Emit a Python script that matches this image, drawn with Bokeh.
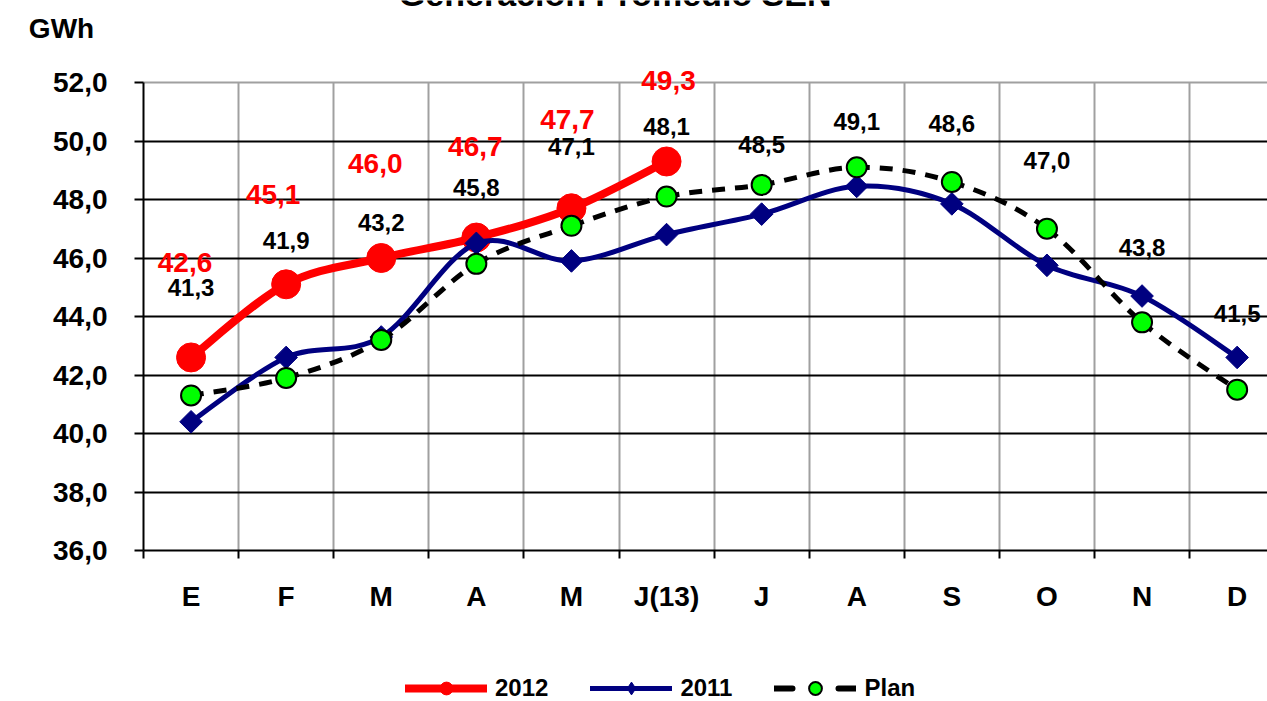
from bokeh.plotting import figure
from bokeh.models import (Range1d, FixedTicker, LabelSet, Label, Legend,
                          LegendItem, ColumnDataSource, Grid)
from bokeh.core.properties import value
from bokeh.embed import file_html
from bokeh.resources import INLINE
import numpy as np

# ---------------- data ----------------
months = ["E", "F", "M", "A", "M", "J(13)", "J", "A", "S", "O", "N", "D"]
gen_2012 = [42.6, 45.1, 46.0, 46.7, 47.7, 49.3]
gen_2011 = [40.4, 42.6, 43.3, 46.5, 45.9, 46.8, 47.5, 48.45, 47.85, 45.75, 44.7, 42.6]
plan = [41.3, 41.9, 43.2, 45.8, 47.1, 48.1, 48.5, 49.1, 48.6, 47.0, 43.8, 41.5]
y_ticks = [36, 38, 40, 42, 44, 46, 48, 50, 52]
y_min, y_max = 36, 52

# label placement (screen pixel offsets, style only)
plan_label_dy = [108, 137, 117, 76, 79, 70, 40, 46, 58, 68, 75, 76]
red_label_dx = [-6, -13, -6, -1, -4, 2]
red_label_dy = [95, 90, 95, 91, 89, 81]

FONT = "Liberation Sans"
W, H = 1267, 701
RED, NAVY, LIME, GRAY = "#ff0000", "#000080", "#00ff00", "#a0a0a0"


def fmt(v):
    return f"{v:.1f}".replace(".", ",")


def smooth_segments(xs, ys):
    """Bezier control points (Catmull-Rom style) through the data points."""
    n = len(xs)
    pts = list(zip(xs, ys))
    d = dict(x0=[], y0=[], x1=[], y1=[], cx0=[], cy0=[], cx1=[], cy1=[])
    for i in range(n - 1):
        p0 = pts[i - 1] if i > 0 else pts[i]
        p1 = pts[i]
        p2 = pts[i + 1]
        p3 = pts[i + 2] if i + 2 < n else pts[i + 1]
        d["x0"].append(p1[0]); d["y0"].append(p1[1])
        d["x1"].append(p2[0]); d["y1"].append(p2[1])
        d["cx0"].append(p1[0] + (p2[0] - p0[0]) / 6)
        d["cy0"].append(p1[1] + (p2[1] - p0[1]) / 6)
        d["cx1"].append(p2[0] - (p3[0] - p1[0]) / 6)
        d["cy1"].append(p2[1] - (p3[1] - p1[1]) / 6)
    return ColumnDataSource(d)


x_all = list(range(len(months)))
x_2012 = x_all[:len(gen_2012)]

# frame covers the whole canvas; axes are pinned at the plot-area edges
PX_X, X0 = 95.1, 190.55      # pixels per category, pixel of first category
PX_Y, Y_TOP = 29.25, 82      # pixels per GWh, pixel of top value
x_rng = Range1d(-X0 / PX_X, (W - X0) / PX_X)
y_rng = Range1d(y_min - (H - (Y_TOP + (y_max - y_min) * PX_Y)) / PX_Y,
                y_max + Y_TOP / PX_Y)
x_left, x_right = -0.5, x_rng.end + 1

p = figure(width=W, height=H, output_backend="svg", toolbar_location=None,
           x_range=x_rng, y_range=y_rng, min_border=0, min_border_left=0,
           min_border_right=0, min_border_top=0, min_border_bottom=0,
           title_location=None)
p.background_fill_color = "white"
p.border_fill_color = "white"
p.outline_line_color = None

# axes
p.yaxis.fixed_location = x_left
p.yaxis.bounds = (y_min, y_max)
p.yaxis.ticker = FixedTicker(ticks=y_ticks)
p.yaxis.major_label_overrides = {t: fmt(t) for t in y_ticks}
p.yaxis.major_tick_out = 9
p.yaxis.major_tick_in = 0
p.yaxis.major_tick_line_color = "black"
p.yaxis.major_tick_line_width = 2
p.yaxis.minor_tick_line_color = None
p.yaxis.major_label_standoff = 27

p.xaxis.fixed_location = y_min
p.xaxis.bounds = (x_left, len(months) - 0.5)
p.xaxis.ticker = FixedTicker(ticks=x_all, minor_ticks=[i - 0.5 for i in range(13)])
p.xaxis.major_label_overrides = {i: m for i, m in enumerate(months)}
p.xaxis.major_tick_line_color = None
p.xaxis.minor_tick_out = 8
p.xaxis.minor_tick_in = 0
p.xaxis.minor_tick_line_color = "black"
p.xaxis.minor_tick_line_width = 2
p.xaxis.major_label_standoff = 22

for ax in (p.xaxis, p.yaxis):
    ax.axis_line_color = "black"
    ax.axis_line_width = 2
    ax.major_label_text_font = FONT
    ax.major_label_text_font_style = "bold"
    ax.major_label_text_font_size = "28px"
    ax.major_label_text_color = "black"

# grids (limited to the plot area)
v_grid = [i + 0.5 for i in range(len(months))]
h_grid = y_ticks[1:-1]
if "cross_bounds" in Grid.properties():
    p.xgrid.ticker = FixedTicker(ticks=v_grid)
    p.xgrid.cross_bounds = (y_min, y_max)
    p.xgrid.grid_line_color = GRAY
    p.xgrid.grid_line_width = 2
    p.ygrid.ticker = FixedTicker(ticks=h_grid)
    p.ygrid.cross_bounds = (x_left, x_right)
    p.ygrid.grid_line_color = "black"
    p.ygrid.grid_line_width = 2
    p.add_layout(Grid(dimension=1, ticker=FixedTicker(ticks=[y_max]),
                      cross_bounds=(x_left, x_right), grid_line_color=GRAY,
                      grid_line_width=2))
else:
    p.xgrid.visible = False
    p.ygrid.visible = False
    p.segment(x0=v_grid, y0=[y_min] * len(v_grid), x1=v_grid,
              y1=[y_max] * len(v_grid), line_color=GRAY, line_width=2)
    p.segment(x0=[x_left] * len(h_grid), y0=h_grid, x1=[x_right] * len(h_grid),
              y1=h_grid, line_color="black", line_width=2)
    p.segment(x0=[x_left], y0=[y_max], x1=[x_right], y1=[y_max],
              line_color=GRAY, line_width=2)

# 2012 (drawn first: later series lie on top, as in the original)
r12l = p.bezier(x0="x0", y0="y0", x1="x1", y1="y1", cx0="cx0", cy0="cy0",
                cx1="cx1", cy1="cy1", source=smooth_segments(x_2012, gen_2012),
                line_color=RED, line_width=8, line_cap="round")
r12s = p.scatter(x_2012, gen_2012, marker="circle", size=29,
                 fill_color=RED, line_color=RED)

# 2011
r11l = p.bezier(x0="x0", y0="y0", x1="x1", y1="y1", cx0="cx0", cy0="cy0",
                cx1="cx1", cy1="cy1", source=smooth_segments(x_all, gen_2011),
                line_color=NAVY, line_width=5, line_cap="round")
r11s = p.scatter(x_all, gen_2011, marker="square", angle=np.pi / 4, size=16,
                 fill_color=NAVY, line_color=NAVY)

# plan
rpl = p.bezier(x0="x0", y0="y0", x1="x1", y1="y1", cx0="cx0", cy0="cy0",
               cx1="cx1", cy1="cy1", source=smooth_segments(x_all, plan),
               line_color="black", line_width=5, line_dash="13 10")
rps = p.scatter(x_all, plan, marker="circle", size=20, fill_color=LIME,
                line_color="black", line_width=2)

# legend-only glyph styles (a single undefined point: nothing drawn in the plot)
nan_src = ColumnDataSource(dict(x=[np.nan], y=[np.nan]))
leg_2011_marker = p.scatter(x="x", y="y", source=nan_src, marker="diamond",
                            size=14, fill_color=NAVY, line_color=NAVY)
leg_plan_line = p.line(x="x", y="y", source=nan_src, line_color="black",
                       line_width=6, line_dash="18 46", line_cap="round")

# data labels
plan_src = ColumnDataSource(dict(x=x_all, y=plan, t=[fmt(v) for v in plan],
                                 dy=plan_label_dy))
p.add_layout(LabelSet(x="x", y="y", text="t", y_offset="dy", source=plan_src,
                      text_align="center", text_baseline="middle",
                      text_font=value(FONT), text_font_style="bold",
                      text_font_size="24px", text_color="black"))
red_src = ColumnDataSource(dict(x=x_2012, y=gen_2012, t=[fmt(v) for v in gen_2012],
                                dx=red_label_dx, dy=red_label_dy))
p.add_layout(LabelSet(x="x", y="y", text="t", x_offset="dx", y_offset="dy",
                      source=red_src, text_align="center", text_baseline="middle",
                      text_font=value(FONT), text_font_style="bold",
                      text_font_size="28px", text_color=RED))

# unit label and (cut-off at the top) title
p.add_layout(Label(x=-1.362, y=53.846, text="GWh", text_align="center",
                   text_baseline="middle", text_font=FONT,
                   text_font_style="bold", text_font_size="28px",
                   text_color="black"))
p.add_layout(Label(x=4.46, y=55.04, text="Generación Promedio SEN",
                   text_align="center", text_baseline="middle",
                   text_font=FONT, text_font_style="bold",
                   text_font_size="34px", text_color="black"))

legend = Legend(items=[LegendItem(label="2012", renderers=[r12l, r12s]),
                       LegendItem(label="2011", renderers=[r11l, leg_2011_marker]),
                       LegendItem(label="Plan", renderers=[leg_plan_line, rps])],
                orientation="horizontal", location=(405, -3),
                glyph_width=82, glyph_height=32, label_standoff=8, spacing=42,
                padding=0, margin=0, border_line_alpha=0,
                background_fill_alpha=0, label_text_font=FONT,
                label_text_font_style="bold", label_text_font_size="24px",
                label_text_color="black")
p.add_layout(legend)

open("out.html", "w").write(file_html(p, INLINE))
